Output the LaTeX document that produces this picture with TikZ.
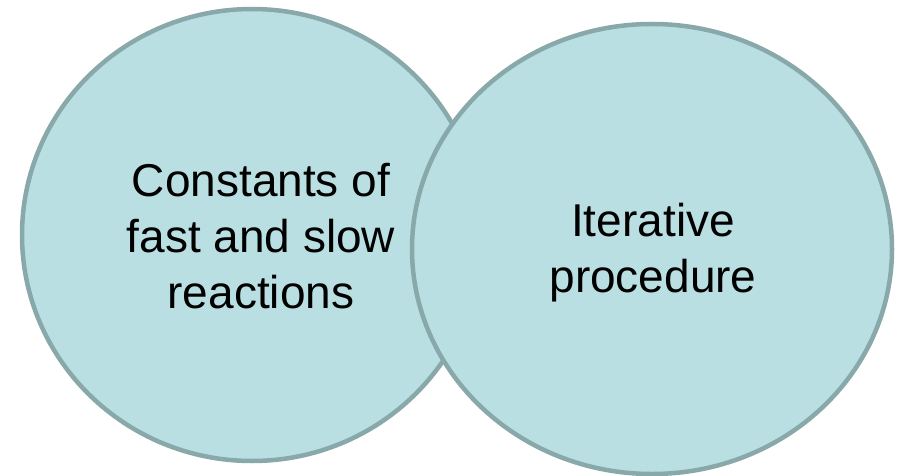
\documentclass[tikz,border=0pt]{standalone}
\usepackage{fontspec}
\setmainfont{Liberation Sans}
\usepackage{tikz}
\usetikzlibrary{shapes.geometric}
\definecolor{bubblefill}{HTML}{B9DFE2}
\definecolor{bubbleline}{HTML}{88A8AA}
\def\textsize{\fontsize{46}{56}\selectfont}

\begin{document}
\begin{tikzpicture}[x=1pt,y=-1pt]
    \tikzstyle{bubble}=[ellipse,draw=bubbleline,fill=bubblefill,line width=4.5pt,inner sep=0pt]
    \tikzstyle{caption}=[align=center,font=\textsize,text=black,inner sep=0pt]

    \useasboundingbox (0,0) rectangle (899,476);

    % Draw the two bubbles
    \node[bubble,minimum width=460pt,minimum height=452pt] (constants) at (252,235) {};
    \node[bubble,minimum width=480pt,minimum height=450pt] (iterative) at (652,249) {};

    % Draw the texts
    \node[caption] (constants-text) at (261,236) {Constants of\\fast and slow\\reactions};
    \node[caption] (iterative-text) at (653,253) {Iterative\\procedure};

\end{tikzpicture}
\end{document}
